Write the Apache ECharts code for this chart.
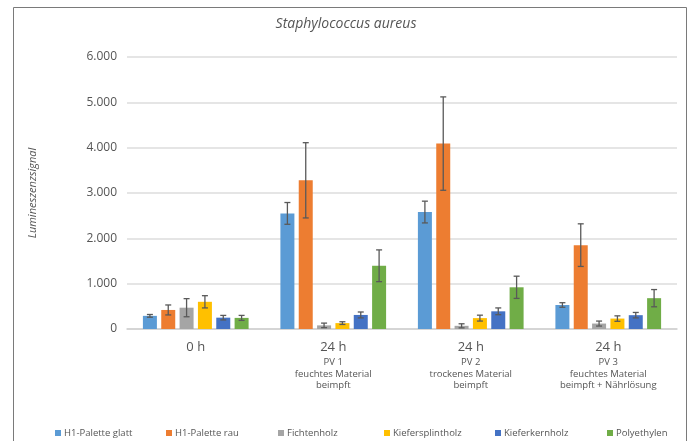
<!DOCTYPE html>
<html>
<head>
<meta charset="utf-8">
<script src="https://cdn.jsdelivr.net/npm/echarts@6/dist/echarts.min.js"></script>
<style>
  html, body { margin: 0; padding: 0; background: #fff; }
  #chart { width: 692px; height: 441px; }
</style>
</head>
<body>
<div id="chart"></div>
<script>
  // Werte
  var categories = [
    '0 h',
    '24 h\nPV 1\nfeuchtes Material\nbeimpft',
    '24 h\nPV 2\ntrockenes Material\nbeimpft',
    '24 h\nPV 3\nfeuchtes Material\nbeimpft + Nährlösung'
  ];
  var seriesNames = ['H1-Palette glatt', 'H1-Palette rau', 'Fichtenholz', 'Kiefersplintholz', 'Kieferkernholz', 'Polyethylen'];
  var palettGlatt = [290, 2550, 2580, 530];
  var paletteRau = [420, 3280, 4090, 1850];
  var fichtenholz = [470, 80, 70, 120];
  var kiefersplintholz = [600, 130, 240, 230];
  var kieferkernholz = [250, 310, 390, 305];
  var polyethylen = [245, 1395, 920, 680];
  // Standardabweichung (Fehlerbalken)
  var errGlatt = [30, 240, 240, 50];
  var errRau = [110, 830, 1030, 470];
  var errFichte = [200, 50, 45, 55];
  var errSplint = [135, 30, 65, 60];
  var errKern = [50, 65, 75, 60];
  var errPoly = [55, 350, 245, 190];
  var yTicks = [0, 1000, 2000, 3000, 4000, 5000, 6000];

  var values = [palettGlatt, paletteRau, fichtenholz, kiefersplintholz, kieferkernholz, polyethylen];
  var errors = [errGlatt, errRau, errFichte, errSplint, errKern, errPoly];
  var colors = ['#5B9BD5', '#ED7D31', '#A5A5A5', '#FFC000', '#4472C4', '#70AD47'];
  var legendLeft = [50, 161, 273, 379, 490, 602];

  var BAR_W = 14;
  var BAR_GAP = 0.31;
  var font = '"Open Sans", "Noto Sans", sans-serif';

  var chart = echarts.init(document.getElementById('chart'));

  var series = [];
  seriesNames.forEach(function (name, i) {
    series.push({
      name: name,
      type: 'bar',
      data: values[i],
      barWidth: BAR_W,
      barGap: (BAR_GAP * 100) + '%',
      itemStyle: { color: colors[i] }
    });
  });
  seriesNames.forEach(function (name, i) {
    var errData = values[i].map(function (v, k) { return [k, v - errors[i][k], v + errors[i][k]]; });
    series.push({
      type: 'custom',
      name: name,
      data: errData,
      z: 10,
      silent: true,
      encode: { x: 0, y: [1, 2] },
      renderItem: function (params, api) {
        var n = seriesNames.length;
        var step = BAR_W * (1 + BAR_GAP);
        var off = (i - (n - 1) / 2) * step;
        var lo = api.coord([api.value(0), api.value(1)]);
        var hi = api.coord([api.value(0), api.value(2)]);
        var x = lo[0] + off;
        var cap = 3;
        var st = { stroke: '#595959', lineWidth: 1.3 };
        return {
          type: 'group',
          children: [
            { type: 'line', shape: { x1: x, y1: lo[1], x2: x, y2: hi[1] }, style: st },
            { type: 'line', shape: { x1: x - cap, y1: lo[1], x2: x + cap, y2: lo[1] }, style: st },
            { type: 'line', shape: { x1: x - cap, y1: hi[1], x2: x + cap, y2: hi[1] }, style: st }
          ]
        };
      }
    });
  });

  var legends = seriesNames.map(function (name, i) {
    return {
      data: [name],
      left: legendLeft[i],
      top: 423,
      itemWidth: 6,
      itemHeight: 6,
      itemGap: 3,
      icon: 'rect',
      selectedMode: false,
      textStyle: { fontFamily: font, fontSize: 9.5, color: '#555', padding: [0, 0, 0, -2] }
    };
  });

  var option = {
    backgroundColor: '#fff',
    animation: false,
    title: {
      text: 'Staphylococcus aureus',
      left: 'center',
      top: 12,
      textStyle: { fontFamily: font, fontStyle: 'italic', fontWeight: 'normal', fontSize: 14, color: '#555' }
    },
    graphic: [{
      type: 'rect',
      shape: { x: 13.5, y: 7.5, width: 673, height: 450 },
      style: { fill: 'none', stroke: '#7a7a7a', lineWidth: 1 },
      silent: true
    }],
    legend: legends,
    grid: { left: 127, right: 15, top: 57, bottom: 112 },
    xAxis: {
      type: 'category',
      data: categories,
      axisLine: { lineStyle: { color: '#d0d0d0', width: 1.5 } },
      axisTick: { show: false },
      axisLabel: {
        margin: 9,
        interval: 0,
        formatter: function (v) {
          var parts = v.split('\n');
          var out = '{a|' + parts[0] + '}';
          for (var k = 1; k < parts.length; k++) out += '\n{b|' + parts[k] + '}';
          return out;
        },
        rich: {
          a: { fontFamily: font, fontSize: 13, color: '#555', lineHeight: 19 },
          b: { fontFamily: font, fontSize: 9.5, color: '#555', lineHeight: 11.5 }
        }
      }
    },
    yAxis: {
      type: 'value',
      min: yTicks[0],
      max: yTicks[yTicks.length - 1],
      interval: 1000,
      name: 'Lumineszenzsignal',
      nameLocation: 'middle',
      nameGap: 89,
      nameTextStyle: { fontFamily: font, fontStyle: 'italic', fontSize: 11, color: '#555' },
      axisLine: { show: false },
      axisTick: { show: false },
      axisLabel: {
        margin: 10,
        fontFamily: font,
        fontSize: 12,
        color: '#555',
        formatter: function (v) { return v === 0 ? '0' : (v / 1000) + '.000'; }
      },
      splitLine: { lineStyle: { color: '#dcdcdc', width: 1.5 } }
    },
    series: series
  };

  chart.setOption(option);
</script>
</body>
</html>
